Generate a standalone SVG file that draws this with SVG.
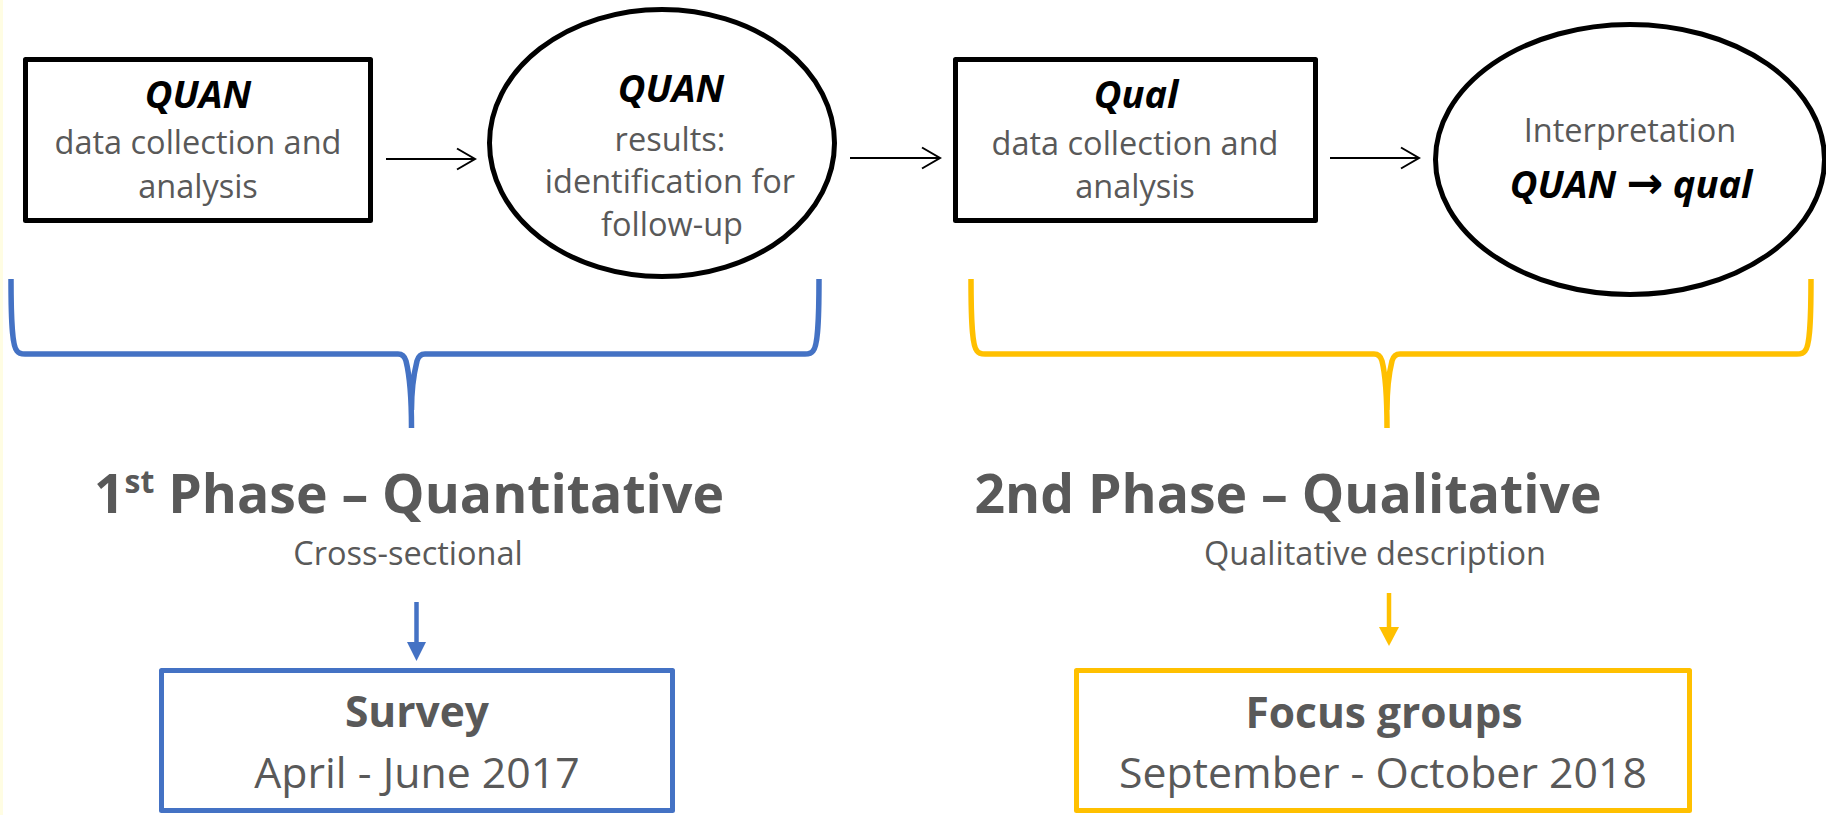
<svg xmlns="http://www.w3.org/2000/svg" width="1826" height="815" viewBox="0 0 1826 815">
  <defs>
    <style>
      .shape { fill: #ffffff; stroke: #000000; stroke-width: 5; stroke-linejoin: round; }
      .txt { font-family: "Open Sans", "Liberation Sans", sans-serif; fill: #595959; text-anchor: middle; }
      .body { font-size: 32.5px; }
      .key { font-family: "Open Sans", "Liberation Sans", sans-serif; font-weight: bold; font-style: italic; fill: #000000; text-anchor: middle; font-size: 38px; }
      .head { font-size: 53.5px; font-weight: bold; }
      .big { font-size: 42.8px; }
      .bigb { font-size: 42.5px; font-weight: bold; }
      .conn { fill: none; stroke: #000000; stroke-width: 2; }
      .brace { fill: none; stroke-width: 5.5; stroke-linejoin: round; stroke-linecap: butt; }
    </style>
    <marker id="open" markerUnits="userSpaceOnUse" markerWidth="24" markerHeight="26" refX="20" refY="12" orient="auto">
      <path d="M2,1.5 L20,12 L2,22.5" fill="none" stroke="#000000" stroke-width="2"/>
    </marker>
  </defs>

  <rect x="0" y="0" width="1826" height="815" fill="#ffffff"/>
  <rect x="0" y="0" width="3" height="815" fill="#fffde3"/>

  <g id="node-quan-collection">
    <rect class="shape" x="25.5" y="59.5" width="345" height="161"/>
    <text class="key" x="198" y="108">QUAN</text>
    <text class="txt body" x="198" y="154">data collection and</text>
    <text class="txt body" x="198" y="198">analysis</text>
  </g>

  <g id="node-quan-results">
    <ellipse class="shape" cx="662" cy="143" rx="172.5" ry="133.5"/>
    <text class="key" x="671" y="102">QUAN</text>
    <text class="txt body" x="670" y="151">results:</text>
    <text class="txt body" x="670" y="193">identification for</text>
    <text class="txt body" x="672" y="236">follow-up</text>
  </g>

  <g id="node-qual-collection">
    <rect class="shape" x="955.5" y="59.5" width="360" height="161"/>
    <text class="key" x="1136" y="108">Qual</text>
    <text class="txt body" x="1135" y="155">data collection and</text>
    <text class="txt body" x="1135" y="198">analysis</text>
  </g>

  <g id="node-interpretation">
    <ellipse class="shape" cx="1630" cy="159.5" rx="194.5" ry="135"/>
    <text class="txt body" x="1630" y="142">Interpretation</text>
    <text class="key" x="1631" y="198" font-size="42">QUAN  <tspan font-family="'DejaVu Sans', sans-serif" font-style="normal" font-size="44">→</tspan>  qual</text>
  </g>

  <g id="connectors">
    <line class="conn" x1="386" y1="159" x2="475" y2="159" marker-end="url(#open)"/>
    <line class="conn" x1="850" y1="158" x2="940" y2="158" marker-end="url(#open)"/>
    <line class="conn" x1="1330" y1="158" x2="1419" y2="158" marker-end="url(#open)"/>
    <line x1="416.5" y1="602" x2="416.5" y2="644" stroke="#4472C4" stroke-width="4.5"/>
    <polygon points="407,642 426,642 416.5,661" fill="#4472C4"/>
    <line x1="1389" y1="593" x2="1389" y2="629" stroke="#FFC000" stroke-width="4.5"/>
    <polygon points="1379,627 1399,627 1389,646" fill="#FFC000"/>
  </g>

  <g id="brace-phase1">
    <path class="brace" stroke="#4472C4" d="M11,279 C11,330 13,347 17,351 Q19,354 25,354 L398,354 Q404,354 406,361 C409,373 411.5,392 411.5,428 M425,354 Q419,354 417,361 C414,373 411.5,392 411.5,410 M819,279 C819,330 817,347 813,351 Q811,354 805,354 L425,354"/>
  </g>

  <g id="brace-phase2">
    <path class="brace" stroke="#FFC000" d="M971,279 C971,330 973,347 977,351 Q979,354 985,354 L1374,354 Q1380,354 1382,361 C1385,373 1387,392 1387,428 M1400,354 Q1394,354 1392,361 C1389,373 1387,392 1387,410 M1811,279 C1811,330 1809,347 1805,351 Q1803,354 1797,354 L1400,354"/>
  </g>

  <g id="label-phase1">
    <text class="txt head" x="409" y="513">1<tspan font-size="32" dy="-20">st</tspan><tspan dy="20"> Phase – Quantitative</tspan></text>
    <text class="txt body" x="408" y="565">Cross-sectional</text>
  </g>

  <g id="label-phase2">
    <text class="txt head" x="1288" y="513">2nd Phase – Qualitative</text>
    <text class="txt body" x="1375" y="565">Qualitative description</text>
  </g>

  <g id="node-survey">
    <rect x="161.5" y="670.5" width="511" height="140" fill="#ffffff" stroke="#4472C4" stroke-width="5" stroke-linejoin="round"/>
    <text class="txt bigb" x="417" y="727">Survey</text>
    <text class="txt big" x="417" y="788">April - June 2017</text>
  </g>

  <g id="node-focus">
    <rect x="1076.5" y="670.5" width="613" height="140" fill="#ffffff" stroke="#FFC000" stroke-width="5" stroke-linejoin="round"/>
    <text class="txt bigb" x="1384" y="728">Focus groups</text>
    <text class="txt big" x="1383" y="788">September - October 2018</text>
  </g>
</svg>
